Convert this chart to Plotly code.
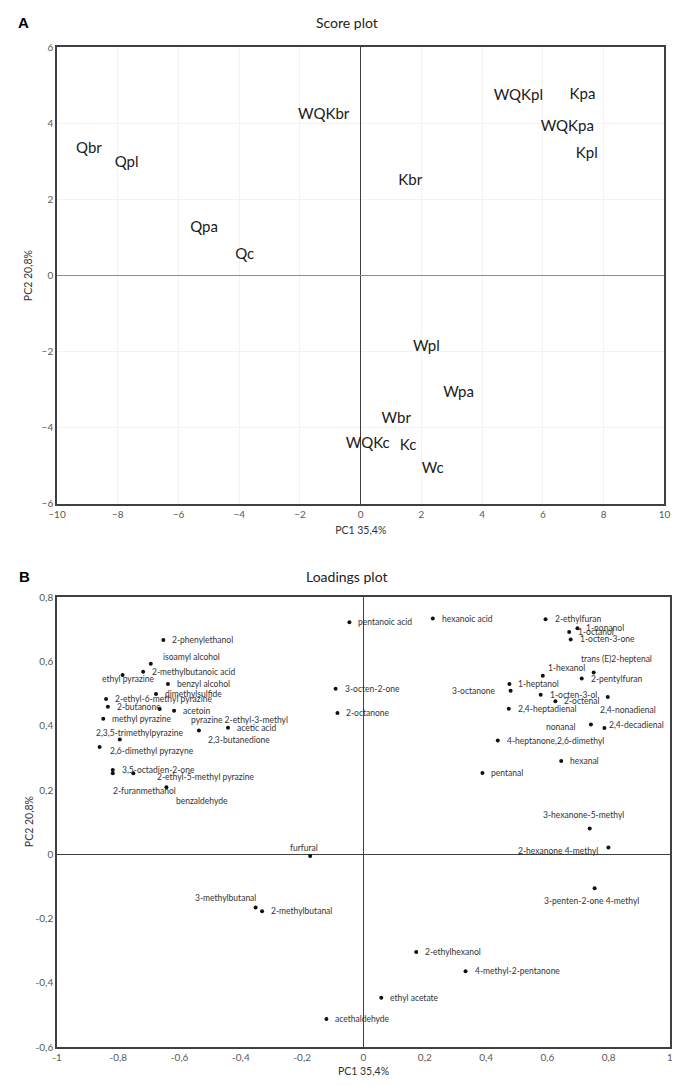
import plotly.graph_objects as go

# score plot (PCA scores)
score_names = ["Qbr", "Qpl", "WQKbr", "Qpa", "Qc", "Kbr", "WQKpl", "Kpa", "WQKpa", "Kpl",
               "Wpl", "Wpa", "Wbr", "WQKc", "Kc", "Wc"]
score_pc1 = [-8.95, -7.71, -1.22, -5.16, -3.82, 1.63, 5.19, 7.30, 6.80, 7.44,
             2.16, 3.22, 1.17, 0.23, 1.56, 2.37]
score_pc2 = [3.32, 2.95, 4.21, 1.24, 0.52, 2.46, 4.70, 4.73, 3.89, 3.19,
             -1.88, -3.09, -3.79, -4.43, -4.50, -5.10]

# loadings plot
load_names = [
    "2-phenylethanol", "isoamyl alcohol", "2-methylbutanoic acid", "ethyl pyrazine",
    "benzyl alcohol", "dimethylsulfide", "2-ethyl-6-methyl pyrazine", "2-butanone",
    "pyrazine 2-ethyl-3-methyl", "acetoin", "methyl pyrazine", "acetic acid",
    "2,3-butanedione", "2,3,5-trimethylpyrazine", "2,6-dimethyl pyrazyne",
    "3,5-octadien-2-one", "2-furanmethanol", "2-ethyl-5-methyl pyrazine", "benzaldehyde",
    "pentanoic acid", "hexanoic acid", "2-ethylfuran", "1-nonanol", "1-octanol",
    "1-octen-3-one", "trans (E)2-heptenal", "1-hexanol", "2-pentylfuran", "1-heptanol",
    "3-octanone", "1-octen-3-ol", "2-octenal", "2,4-nonadienal", "2,4-heptadienal",
    "nonanal", "2,4-decadienal", "4-heptanone,2,6-dimethyl", "hexanal", "pentanal",
    "3-hexanone-5-methyl", "3-octen-2-one", "2-octanone", "furfural", "3-methylbutanal",
    "2-methylbutanal", "2-ethylhexanol", "4-methyl-2-pentanone", "ethyl acetate",
    "acethaldehyde", "2-hexanone 4-methyl", "3-penten-2-one 4-methyl",
]
load_pc1 = [
    -0.653, -0.694, -0.719, -0.786, -0.638, -0.677, -0.840, -0.834, -0.665, -0.618,
    -0.849, -0.442, -0.537, -0.795, -0.861, -0.818, -0.818, -0.751, -0.643,
    -0.046, 0.226, 0.594, 0.698, 0.671, 0.676, 0.751, 0.585, 0.712, 0.476,
    0.480, 0.578, 0.626, 0.797, 0.474, 0.742, 0.786, 0.438, 0.645, 0.388,
    0.738, -0.091, -0.085, -0.174, -0.352, -0.331, 0.172, 0.333, 0.058,
    -0.121, 0.799, 0.754,
]
load_pc2 = [
    0.667, 0.593, 0.568, 0.558, 0.530, 0.499, 0.483, 0.459, 0.452, 0.447,
    0.422, 0.394, 0.385, 0.357, 0.334, 0.262, 0.252, 0.252, 0.209,
    0.722, 0.734, 0.732, 0.704, 0.692, 0.669, 0.566, 0.556, 0.547, 0.530,
    0.509, 0.497, 0.476, 0.490, 0.453, 0.404, 0.393, 0.354, 0.290, 0.253,
    0.080, 0.515, 0.440, -0.005, -0.166, -0.177, -0.304, -0.364, -0.447,
    -0.513, 0.021, -0.106,
]

score_xticks = [-10, -8, -6, -4, -2, 0, 2, 4, 6, 8, 10]
score_yticks = [-6, -4, -2, 0, 2, 4, 6]
load_xticks = [-1, -0.8, -0.6, -0.4, -0.2, 0, 0.2, 0.4, 0.6, 0.8, 1]
load_xtext = ["-1", "-0,8", "-0,6", "-0,4", "-0,2", "0", "0,2", "0,4", "0,6", "0,8", "1"]
load_yticks = [-0.6, -0.4, -0.2, 0, 0.2, 0.4, 0.6, 0.8]
load_ytext = ["-0,6", "-0,4", "-0,2", "0", "0,2", "0,4", "0,6", "0,8"]

# label placement for the loadings: (anchor, xshift, yshift) in px
label_place = {
    "isoamyl alcohol": ("left", 10, 7),
    "ethyl pyrazine": ("center", 6, -4),
    "pyrazine 2-ethyl-3-methyl": ("left", 29, -11),
    "2,3-butanedione": ("left", 7, -9),
    "2,3,5-trimethylpyrazine": ("center", 20, 7),
    "2,6-dimethyl pyrazyne": ("left", 8, -4),
    "2-furanmethanol": ("left", -2, -18),
    "2-ethyl-5-methyl pyrazine": ("left", 22, -4),
    "benzaldehyde": ("left", 8, -14),
    "trans (E)2-heptenal": ("center", 23, 13),
    "1-hexanol": ("left", 3, 8),
    "3-octanone": ("right", -13, 0),
    "2,4-nonadienal": ("center", 20, -13),
    "nonanal": ("right", -13, -2),
    "2,4-decadienal": ("left", 3, 3),
    "3-hexanone-5-methyl": ("center", -6, 14),
    "furfural": ("center", -6, 8),
    "3-methylbutanal": ("center", -30, 10),
    "2-hexanone 4-methyl": ("right", -8, -3),
    "3-penten-2-one 4-methyl": ("center", -3, -13),
}

FONT = "Lato"
GRAY = "#595959"
LINE = "#404040"

W, H = 680, 1086
ML, MR, MT, MB = 49, 15, 39, 47
pw, ph = W - ML - MR, H - MT - MB

fig = go.Figure()

fig.add_trace(go.Scatter(
    x=score_pc1, y=score_pc2, text=score_names, mode="text",
    textposition="middle center",
    textfont=dict(family=FONT, size=15, color="#1a1a1a"),
    xaxis="x", yaxis="y", hoverinfo="text", showlegend=False,
))

fig.add_trace(go.Scatter(
    x=load_pc1, y=load_pc2, mode="markers",
    marker=dict(size=4, color="#111111"),
    xaxis="x2", yaxis="y2", text=load_names, hoverinfo="text", showlegend=False,
))

annotations = []
for name, px_, py_ in zip(load_names, load_pc1, load_pc2):
    anchor, dx, dy = label_place.get(name, ("left", 7, 0))
    annotations.append(dict(
        x=px_, y=py_, xref="x2", yref="y2", text=name, showarrow=False,
        xanchor=anchor, yanchor="middle", xshift=dx, yshift=dy,
        font=dict(family=FONT, size=8.5, color="#333333"),
    ))


def header(text, xpx, ypx, font, angle=0):
    # header / side texts placed by pixel position on the page
    return dict(x=(xpx - ML) / pw, y=(H - MB - ypx) / ph, xref="paper", yref="paper",
                text=text, showarrow=False, xanchor="center", yanchor="middle",
                font=font, textangle=angle)


letter_font = dict(family="Liberation Sans", size=15, color="black")
title_font = dict(family=FONT, size=14, color="#222222")
axtitle_font = dict(family=FONT, size=10.5, color="#333333")
annotations += [
    header("<b>A</b>", 15, 15, letter_font),
    header("Score plot", 340, 15, title_font),
    header("<b>B</b>", 16, 568, letter_font),
    header("Loadings plot", 340, 568, title_font),
    header("PC2 20,8%", 20, 268, axtitle_font, -90),
    header("PC2 20,8%", 21, 814, axtitle_font, -90),
]

axis_common = dict(
    showline=True, mirror=True, linecolor=LINE, linewidth=1.6,
    ticks="", zeroline=True, zerolinecolor=LINE, zerolinewidth=1.2,
    tickfont=dict(family=FONT, size=10, color=GRAY),
    title_font=axtitle_font, ticklabeloverflow="allow",
)

fig.update_layout(
    width=W, height=H,
    margin=dict(l=ML, r=MR, t=MT, b=MB),
    paper_bgcolor="white", plot_bgcolor="white",
    annotations=annotations,
    xaxis=dict(domain=[0, 0.991], range=[-10, 10], tickvals=score_xticks,
               showgrid=True, gridcolor="#f2f2f2", anchor="y",
               title=dict(text="PC1 35,4%", standoff=8), **axis_common),
    yaxis=dict(domain=[0.5433, 1], range=[-6, 6], tickvals=score_yticks,
               showgrid=True, gridcolor="#f2f2f2", anchor="x", **axis_common),
    xaxis2=dict(domain=[0, 1], range=[-1, 1], tickvals=load_xticks, ticktext=load_xtext,
                showgrid=False, anchor="y2",
                title=dict(text="PC1 35,4%", standoff=6), **axis_common),
    yaxis2=dict(domain=[0, 0.4497], range=[-0.6, 0.8], tickvals=load_yticks,
                ticktext=load_ytext, showgrid=False, anchor="x2", **axis_common),
)
fig.update_yaxes(zerolinecolor="#8c8c8c", selector=dict(anchor="x"))

fig.write_html("out.html")
